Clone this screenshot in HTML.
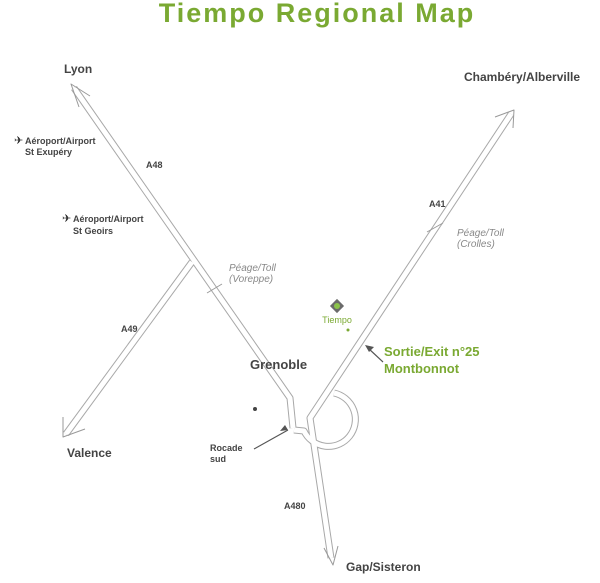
<!DOCTYPE html><html><head><style>body{margin:0;background:#fff}svg{display:block}</style></head><body>
<svg width="600" height="583" viewBox="0 0 600 583" xmlns="http://www.w3.org/2000/svg" font-family="Liberation Sans, sans-serif">
<text x="317" y="22" text-anchor="middle" font-size="27" font-weight="bold" fill="#7aa932" letter-spacing="2">Tiempo Regional Map</text>
<g fill="none" stroke-linejoin="round">
<g stroke="#a8a8a8" stroke-width="7">
<path d="M74,88 L290,398 L293,428"/>
<path d="M192,262 L66,434"/>
<path d="M511,114 L310,418 L331,558"/>
<path d="M334,393 A27,27 0 1 1 304,431 L294,430"/>
</g>
<g stroke="#fff" stroke-width="5">
<path d="M74,88 L290,398 L293,428"/>
<path d="M192,262 L66,434"/>
<path d="M511,114 L310,418 L331,558"/>
<path d="M334,393 A27,27 0 1 1 304,431 L294,430"/>
</g>
<g stroke="#999" stroke-width="1">
<path d="M79,107 L71,84 L90,96"/>
<path d="M63,417 L63,437 L85,429"/>
<path d="M495,117 L514,110 L513,128"/>
<path d="M324,548 L333,565 L338,546"/>
<path d="M427,232 L443,223"/>
<path d="M207,293 L222,284"/>
</g>
<g stroke="#555" stroke-width="1.2">
<path d="M254,449 L288,430"/><path d="M383,362 L368,348"/>
</g>
</g>
<path d="M288,430 L280,431 L285,425Z M365,345 L374,347 L369,352Z" fill="#555"/>
<g font-weight="bold" fill="#444" font-size="11">
<text x="64" y="73" font-size="12">Lyon</text>
<text x="464" y="81" font-size="12">Chambéry/Alberville</text>
<text x="67" y="457" font-size="12">Valence</text>
<text x="346" y="571" font-size="12">Gap/Sisteron</text>
<text x="250" y="369" font-size="13">Grenoble</text>
<text x="146" y="168" font-size="9">A48</text>
<text x="429" y="207" font-size="9">A41</text>
<text x="121" y="332" font-size="9">A49</text>
<text x="284" y="509" font-size="9">A480</text>
<text x="25" y="144" font-size="9">Aéroport/Airport</text>
<text x="25" y="155" font-size="9">St Exupéry</text>
<text x="73" y="222" font-size="9">Aéroport/Airport</text>
<text x="73" y="234" font-size="9">St Geoirs</text>
<text x="210" y="451" font-size="9">Rocade</text>
<text x="210" y="462" font-size="9">sud</text>
</g>
<text x="14" y="144" font-size="11" fill="#333">✈</text>
<text x="62" y="222" font-size="11" fill="#333">✈</text>
<circle cx="255" cy="409" r="2" fill="#444"/>
<g font-style="italic" fill="#888" font-size="10">
<text x="229" y="271">Péage/Toll</text><text x="229" y="282">(Voreppe)</text>
<text x="457" y="236">Péage/Toll</text><text x="457" y="247">(Crolles)</text>
</g>
<g fill="#7aa932" font-weight="bold" font-size="13">
<text x="384" y="356">Sortie/Exit n°25</text><text x="384" y="373">Montbonnot</text>
</g>
<rect x="332" y="301" width="10" height="10" transform="rotate(45 337 306)" fill="#6b6b6b"/>
<circle cx="337" cy="306" r="3" fill="#8bc34a"/>
<text x="337" y="323" text-anchor="middle" font-size="9" fill="#7aa932">Tiempo</text>
<circle cx="348" cy="330" r="1.5" fill="#7aa932"/>
</svg></body></html>
